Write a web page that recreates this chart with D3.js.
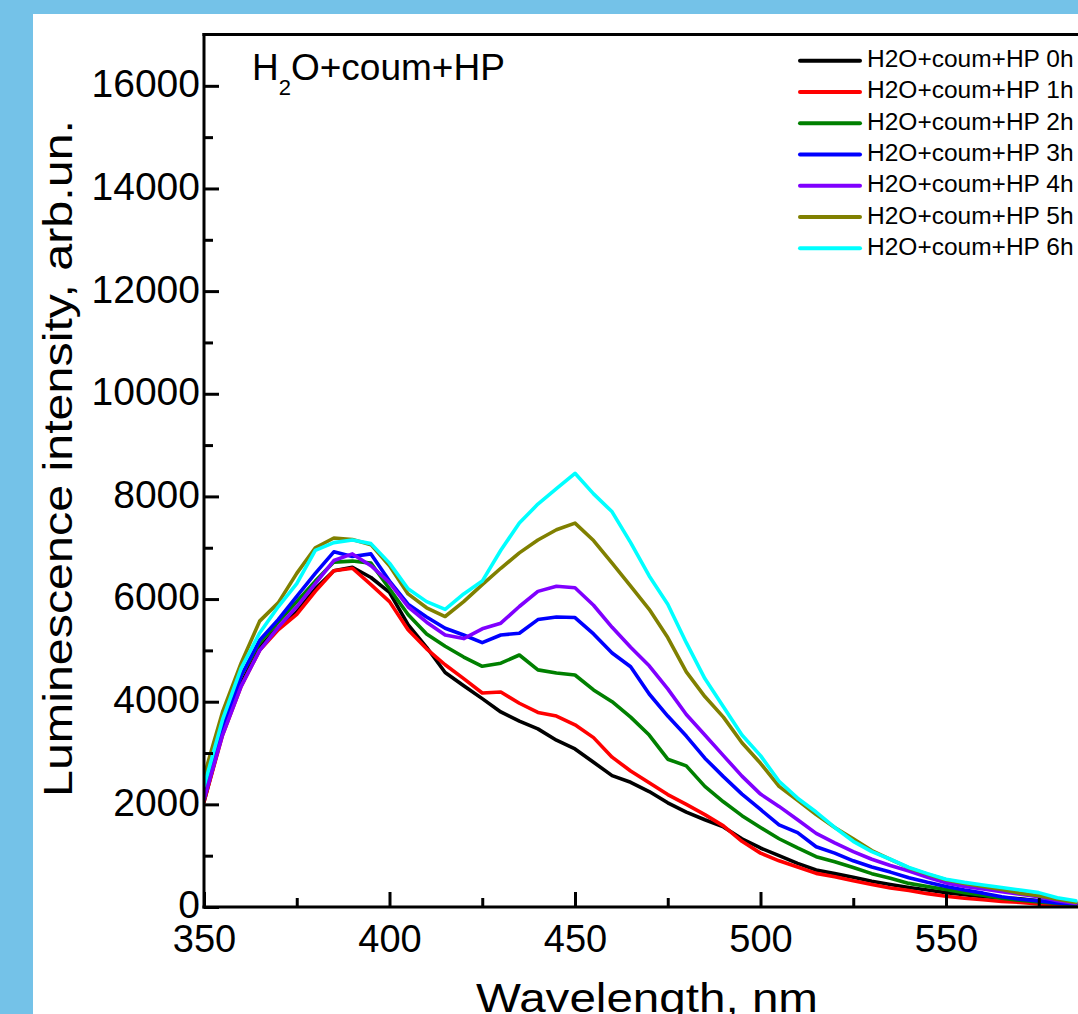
<!DOCTYPE html>
<html>
<head>
<meta charset="utf-8">
<script src="https://cdn.jsdelivr.net/npm/d3@7"></script>
<style>
  html, body { margin: 0; padding: 0; background: #74C2E8; overflow: hidden; }
  svg { display: block; }
  text { font-family: "Liberation Sans", Arial, sans-serif; fill: #000; }
</style>
</head>
<body>
<svg id="chart" width="1078" height="1014"></svg>
<script>
// ---------------- DATA ----------------
const wavelengths = [350,355,360,365,370,375,380,385,390,395,400,405,410,415,420,425,430,435,440,445,450,455,460,465,470,475,480,485,490,495,500,505,510,515,520,525,530,535,540,545,550,555,560,565,570,575,580,585];

const seriesNames = ["H2O+coum+HP 0h","H2O+coum+HP 1h","H2O+coum+HP 2h","H2O+coum+HP 3h","H2O+coum+HP 4h","H2O+coum+HP 5h","H2O+coum+HP 6h"];
const seriesColors = ["#000000","#FF0000","#008000","#0000FF","#8000FF","#808000","#00FFFF"];

const s0h = [2050,3400,4350,5050,5450,5750,6200,6550,6620,6420,6130,5500,5060,4570,4310,4060,3800,3620,3470,3250,3080,2820,2560,2430,2250,2030,1850,1700,1560,1330,1150,1000,850,720,650,580,500,440,380,330,280,240,200,180,160,120,70,40];
const s1h = [2050,3350,4300,5000,5400,5700,6150,6550,6600,6280,5950,5400,5030,4720,4450,4170,4190,3970,3790,3720,3550,3300,2920,2650,2420,2190,2000,1800,1580,1280,1050,900,780,655,590,510,440,370,320,260,210,170,140,110,90,60,30,20];
const s2h = [2300,3600,4500,5150,5550,5950,6350,6720,6740,6700,6200,5700,5320,5080,4870,4690,4750,4910,4620,4560,4520,4230,4000,3700,3350,2880,2750,2350,2050,1780,1550,1330,1150,980,880,770,650,560,460,400,340,280,230,170,130,100,70,50];
const s3h = [2100,3450,4500,5200,5600,6050,6500,6920,6830,6880,6350,5900,5650,5430,5300,5150,5300,5335,5600,5650,5640,5320,4950,4680,4150,3720,3330,2900,2540,2200,1900,1600,1450,1175,1050,900,780,680,570,480,400,330,270,200,150,120,80,60];
const s4h = [2100,3350,4300,5000,5450,5850,6300,6750,6880,6650,6320,5850,5550,5300,5230,5420,5530,5855,6150,6250,6220,5880,5450,5060,4700,4250,3750,3350,2950,2550,2200,1960,1700,1435,1250,1080,930,810,700,580,470,400,350,300,250,200,120,70];
const s5h = [2550,3800,4750,5570,5925,6500,7000,7190,7160,7060,6650,6100,5830,5660,5950,6280,6600,6900,7150,7350,7480,7140,6700,6250,5800,5250,4580,4100,3700,3200,2800,2350,2080,1800,1550,1330,1100,930,760,640,530,460,400,340,270,220,150,90];
const s6h = [2350,3650,4650,5340,5850,6300,6950,7100,7150,7080,6700,6200,5950,5800,6100,6350,6950,7480,7850,8150,8450,8050,7700,7100,6450,5900,5150,4450,3900,3350,2950,2450,2120,1850,1550,1280,1080,930,770,650,540,480,430,380,330,280,180,120];

const seriesValues = [s0h, s1h, s2h, s3h, s4h, s5h, s6h];

const yMajorTicks = [0,2000,4000,6000,8000,10000,12000,14000,16000];
const yMinorTicks = [1000,3000,5000,7000,9000,11000,13000,15000];
const xMajorTicks = [350,400,450,500,550];
const xMinorTicks = [375,425,475,525,575];

// ---------------- LAYOUT ----------------
const svg = d3.select("#chart");
const W = 1078, H = 1014;

// white panel
svg.append("rect").attr("x", 33).attr("y", 14).attr("width", W - 33).attr("height", H - 14).attr("fill", "#fff");

const x = d3.scaleLinear().domain([350, 600]).range([204, 1131.5]);
const y = d3.scaleLinear().domain([0, 17000]).range([907, 34.5]);

// clip
svg.append("defs").append("clipPath").attr("id", "plotclip")
  .append("rect").attr("x", x(350)).attr("y", y(17000)).attr("width", x(600) - x(350)).attr("height", y(0) - y(17000));

// curves
const line = d3.line().x((d, i) => x(wavelengths[i])).y(d => y(d)).curve(d3.curveLinear);
const gLines = svg.append("g").attr("clip-path", "url(#plotclip)");
seriesValues.forEach((vals, k) => {
  gLines.append("path").datum(vals)
    .attr("d", line)
    .attr("fill", "none")
    .attr("stroke", seriesColors[k])
    .attr("stroke-width", 3.6)
    .attr("stroke-linejoin", "round")
    .attr("stroke-linecap", "round");
});

// axes
function styleAxis(g) {
  g.select(".domain").remove();
  g.selectAll(".tick line").attr("stroke", "#000").attr("stroke-width", 3);
}
const gy = svg.append("g").attr("transform", `translate(${x(350)},0)`)
  .call(d3.axisLeft(y).tickValues(yMajorTicks).tickSize(-15).tickPadding(4).tickFormat(d3.format("d")));
styleAxis(gy);
gy.selectAll("text").attr("font-size", 39).attr("dy", "0.28em").style("font-family", '"Liberation Sans", Arial, sans-serif');

const gy2 = svg.append("g").attr("transform", `translate(${x(350)},0)`)
  .call(d3.axisLeft(y).tickValues(yMinorTicks).tickSize(-9).tickFormat(""));
styleAxis(gy2);

const gx = svg.append("g").attr("transform", `translate(0,${y(0)})`)
  .call(d3.axisBottom(x).tickValues(xMajorTicks).tickSize(-15).tickPadding(18).tickFormat(d3.format("d")));
styleAxis(gx);
gx.selectAll("text").attr("font-size", 38).style("font-family", '"Liberation Sans", Arial, sans-serif');

const gx2 = svg.append("g").attr("transform", `translate(0,${y(0)})`)
  .call(d3.axisBottom(x).tickValues(xMinorTicks).tickSize(-9).tickFormat(""));
styleAxis(gx2);

// frame lines
svg.append("line").attr("x1", x(350)).attr("x2", x(350)).attr("y1", y(17000) - 1.5).attr("y2", y(0) + 1.5)
  .attr("stroke", "#000").attr("stroke-width", 3);
svg.append("line").attr("x1", x(350) - 1.5).attr("x2", W).attr("y1", y(0)).attr("y2", y(0))
  .attr("stroke", "#000").attr("stroke-width", 3);
svg.append("line").attr("x1", x(350) - 1.5).attr("x2", W).attr("y1", y(17000)).attr("y2", y(17000))
  .attr("stroke", "#000").attr("stroke-width", 3);

// title inside plot
const title = svg.append("text").attr("x", 252).attr("y", 80).attr("font-size", 37);
title.append("tspan").text("H");
title.append("tspan").text("2").attr("font-size", 22).attr("dy", 15);
title.append("tspan").text("O+coum+HP").attr("dy", -15);

// legend
const legend = svg.append("g");
seriesNames.forEach((name, k) => {
  const ly = 60.7 + k * 31.27;
  legend.append("line").attr("x1", 800).attr("x2", 860).attr("y1", ly).attr("y2", ly)
    .attr("stroke", seriesColors[k]).attr("stroke-width", 4).attr("stroke-linecap", "round");
  legend.append("text").attr("x", 867).attr("y", ly + 6.5).attr("font-size", 24.5).text(name);
});

// axis titles
svg.append("text")
  .attr("transform", "translate(72,458.5) rotate(-90)")
  .attr("text-anchor", "middle")
  .attr("font-size", 40)
  .attr("textLength", 677).attr("lengthAdjust", "spacingAndGlyphs")
  .text("Luminescence intensity, arb.un.");

svg.append("text")
  .attr("x", 647).attr("y", 1012)
  .attr("text-anchor", "middle")
  .attr("font-size", 40)
  .attr("textLength", 342).attr("lengthAdjust", "spacingAndGlyphs")
  .text("Wavelength, nm");
</script>
</body>
</html>
